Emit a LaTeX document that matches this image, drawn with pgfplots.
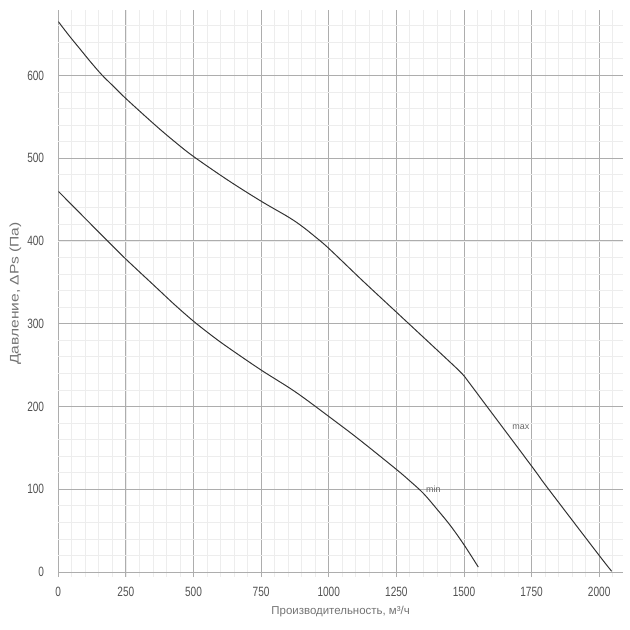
\documentclass[border=0pt]{standalone}
\usepackage{fontspec}
\setmainfont{Liberation Sans}
\newfontfamily\tickfont{Liberation Sans}[FakeStretch=0.75]
\newfontfamily\ylabfont{Liberation Sans}[FakeStretch=1.25]
\usepackage{pgfplots}
\pgfplotsset{compat=1.18}
\pgfplotstableread{
x y
0 665
40 648
80 632
120 616
160 601
200 588
250 572
358 540
430 520
500 502
629 473
750 448
850 429
900 418
950 405
1000 391
1125 352
1250 314
1375 276
1470 247
1500 237
1530 224
1750 128
1806 103
2000 20
2046 1
}\maxdata
\pgfplotstableread{
x y
0 460
100 427
179 401
250 378
358 345
430 323
500 303
570 285
629 271
750 244
875 218
1000 188
1109 161
1250 124
1300 110
1350 95
1400 76
1450 56
1500 33
1553 6
}\mindata
\begin{document}
\begin{tikzpicture}
\begin{axis}[
  name=ax,
  scale only axis,
  width=564.7bp, height=567bp,
  xmin=0, xmax=2088, ymin=-6, ymax=679,
  xtick={0,250,...,2000}, ytick={0,100,...,600},
  minor xtick={50,100,...,2050}, minor ytick={20,40,...,660},
  grid=both,
  major grid style={line width=0.9bp, color=black!32},
  minor grid style={line width=0.8bp, color=black!7},
  axis line style={draw=none},
  major tick length=0pt, minor tick length=0pt,
  tick label style={font=\tickfont\fontsize{13.5}{14}\selectfont, color=black!68},
  /pgf/number format/assume math mode=true,
  /pgf/number format/1000 sep={},
  yticklabel style={inner sep=0pt, anchor=east, xshift=-14bp},
  xticklabel style={inner sep=0pt, anchor=north, yshift=-10bp},
  xlabel={Производительность, м³/ч},
  ylabel={Давление, ΔPs (Па)},
  label style={color=black!55},
  xlabel style={font=\fontsize{11.5}{12}\selectfont, at={(rel axis cs:0.5,0)}, anchor=center, yshift=-35bp, inner sep=0pt},
  ylabel style={font=\ylabfont\fontsize{12.5}{13}\selectfont, at={(rel axis cs:0,0.5)}, anchor=center, yshift=43bp, inner sep=0pt},
]
\addplot[color=black!80, line width=1bp, smooth, tension=0.55] table[x=x,y=y] {\maxdata};
\addplot[color=black!80, line width=1bp, smooth, tension=0.55] table[x=x,y=y] {\mindata};
\node[font=\fontsize{9}{10}\selectfont, color=black!60] at (axis cs:1710,175) {max};
\node[font=\fontsize{9}{10}\selectfont, color=black!60] at (axis cs:1387,100) {min};
\end{axis}
\pgfresetboundingbox
\path[use as bounding box] ([xshift=-58.3bp,yshift=-53bp]ax.south west) rectangle ([xshift=7bp,yshift=10bp]ax.north east);
\end{tikzpicture}
\end{document}
